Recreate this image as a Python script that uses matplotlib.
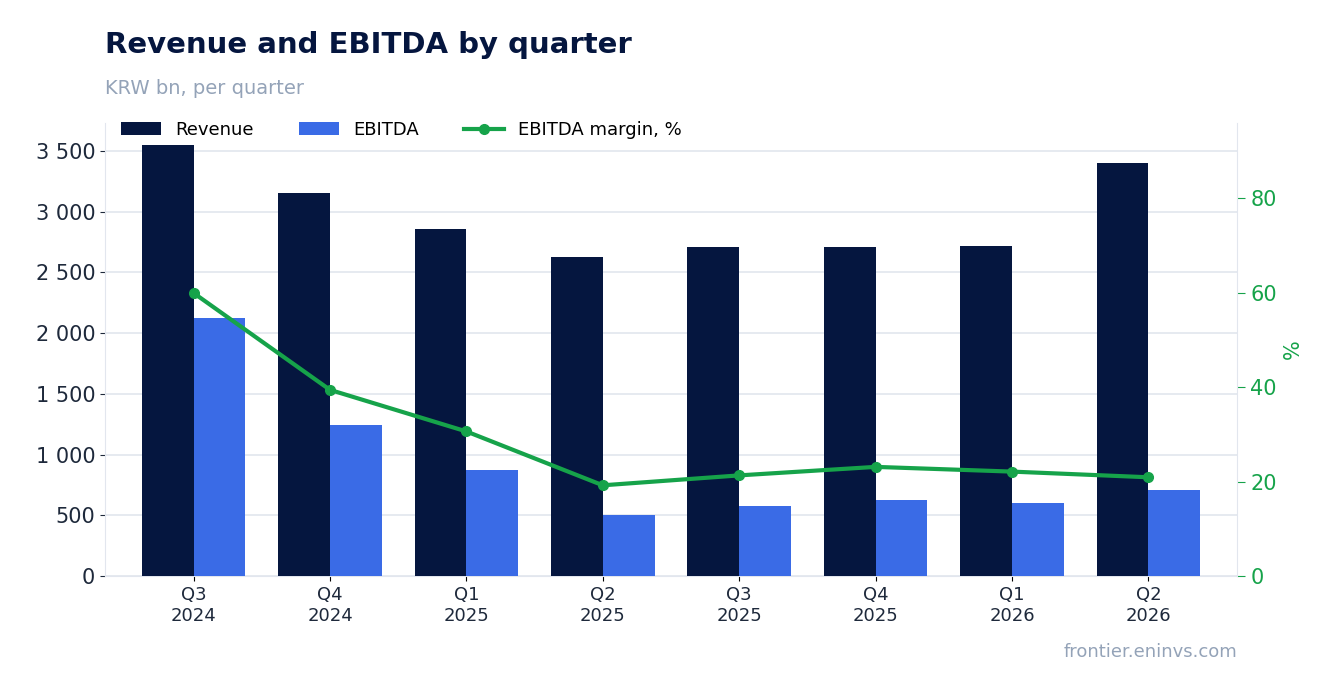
import numpy as np
import matplotlib.pyplot as plt
from matplotlib.ticker import FuncFormatter

kvartaly = ["Q3\n2024", "Q4\n2024", "Q1\n2025", "Q2\n2025", "Q3\n2025", "Q4\n2025", "Q1\n2026", "Q2\n2026"]
trzby = [3550, 3150, 2860, 2630, 2710, 2710, 2720, 3400]
ebitda = [2125, 1245, 873, 502, 576, 626, 601, 708]
marze = [59.9, 39.4, 30.6, 19.2, 21.3, 23.1, 22.1, 20.9]

navy = "#05163f"
modra = "#3a6be6"
zelena = "#16a34a"
seda = "#94a3b8"

fig = plt.figure(figsize=(13.36, 6.93), dpi=100)
ax = fig.add_axes([105/1336, 1-576/693, (1237-105)/1336, (576-123)/693])
x = np.arange(len(kvartaly))
w = 0.38
ax.bar(x - w/2, trzby, w, color=navy, label="Revenue", zorder=3)
ax.bar(x + w/2, ebitda, w, color=modra, label="EBITDA", zorder=3)
ax.set_ylim(0, 3730)
ax.set_xlim(-0.65, 7.65)
ax.set_yticks(np.arange(0, 3501, 500))
ax.yaxis.set_major_formatter(FuncFormatter(lambda v, p: f"{int(v):,}".replace(",", " ")))
ax.grid(axis="y", color="#e2e6ee", lw=1.2, zorder=0)
ax.set_xticks(x)
ax.set_xticklabels(kvartaly, fontsize=13, color="#1e293b")
ax.tick_params(axis="y", labelsize=15, colors="#1e293b")
for s in ["top", "right"]:
    ax.spines[s].set_visible(False)
ax.spines["left"].set_color("#e2e6ee")
ax.spines["bottom"].set_color("#e2e6ee")

ax2 = ax.twinx()
ax2.plot(x, marze, color=zelena, lw=3, marker="o", ms=7, label="EBITDA margin, %", zorder=4)
ax2.set_ylim(0, 95.9)
ax2.set_yticks([0, 20, 40, 60, 80])
ax2.tick_params(axis="y", labelsize=15, colors=zelena, length=6)
ax2.set_ylabel("%", color=zelena, fontsize=15)
for s in ["top", "left", "bottom"]:
    ax2.spines[s].set_visible(False)
ax2.spines["right"].set_color("#e2e6ee")

h1, l1 = ax.get_legend_handles_labels()
h2, l2 = ax2.get_legend_handles_labels()
ax.legend(h1 + h2, l1 + l2, loc="upper left", ncol=3, frameon=False, fontsize=13,
          bbox_to_anchor=(0.0, 1.04), handlelength=2.2, columnspacing=2.5)

fig.text(105/1336, 1-45/693, "Revenue and EBITDA by quarter", fontsize=21, fontweight="bold", color=navy, va="center")
fig.text(105/1336, 1-88/693, "KRW bn, per quarter", fontsize=14, color=seda, va="center")
fig.text(1237/1336, 1-652/693, "frontier.eninvs.com", fontsize=13, color=seda, ha="right", va="center")

fig.savefig("out.png", dpi=100)
